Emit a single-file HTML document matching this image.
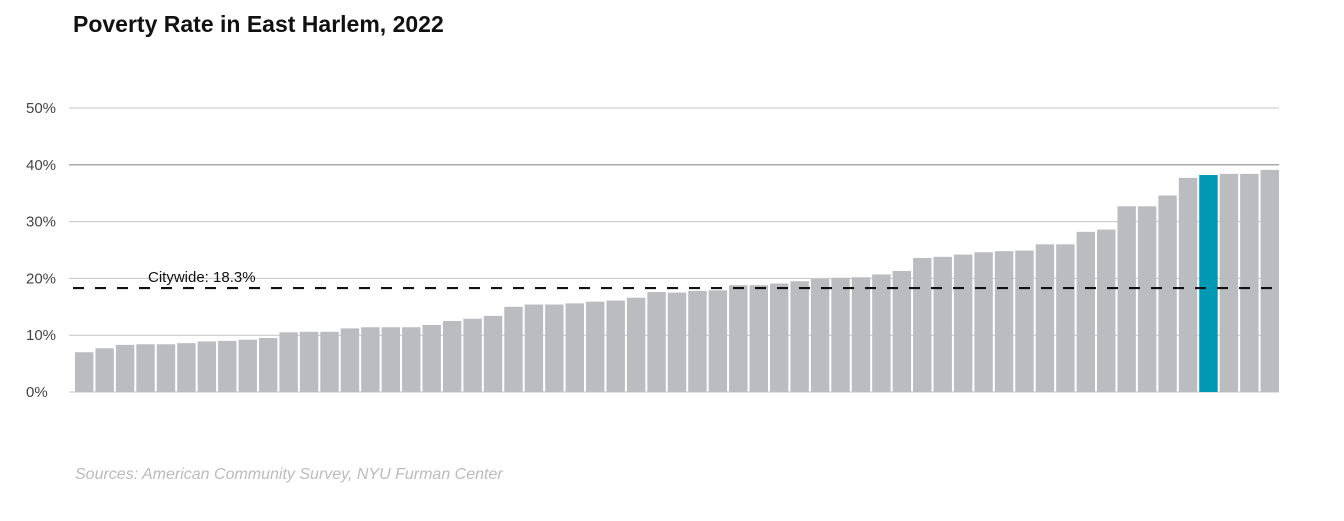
<!DOCTYPE html>
<html><head><meta charset="utf-8"><style>
body{margin:0;background:#fff;width:1344px;height:516px;overflow:hidden;font-family:"Liberation Sans",sans-serif}
</style></head><body>
<svg width="1344" height="516">
<text x="73" y="32" font-size="23" font-weight="bold" fill="#111">Poverty Rate in East Harlem, 2022</text>
<g id="grid"></g><g id="bars"></g><g id="ref"></g>
<text x="75" y="479" font-size="16" font-style="italic" fill="#bbb">Sources: American Community Survey, NYU Furman Center</text>
</svg>
<script>
const values=[7.0,7.7,8.3,8.4,8.4,8.6,8.9,9.0,9.2,9.5,10.5,10.6,10.6,11.2,11.4,11.4,11.4,11.8,12.5,12.9,13.4,15.0,15.4,15.4,15.6,15.9,16.1,16.6,17.6,17.5,17.8,17.9,18.8,18.8,19.1,19.5,19.9,20.1,20.2,20.7,21.3,23.6,23.8,24.2,24.6,24.8,24.9,26.0,26.0,28.2,28.6,32.7,32.7,34.6,37.7,38.2,38.4,38.4,39.1];
const highlightIndex=55;
const ticks=[0,10,20,30,40,50];
const tickLabels=["0%","10%","20%","30%","40%","50%"];
const citywide=18.3;
const citywideLabel="Citywide: 18.3%";
const NS="http://www.w3.org/2000/svg";
const x0=73,x1=1279,y0=392,ppu=5.68,step=(x1-x0)/values.length;
const y=v=>y0-v*ppu;
function mk(t,a,p){const e=document.createElementNS(NS,t);for(const k in a)e.setAttribute(k,a[k]);p.appendChild(e);return e;}
const g=document.getElementById('grid');
ticks.forEach((t,i)=>{
 const l=mk('line',{x1:x0-4,x2:x1,y1:y(t),y2:y(t),stroke:t==40?'#aaa':'#c4c4c4','stroke-width':t==40?1.5:1},g);
 
 
 const tx=mk('text',{x:26,y:y(t)+5,'font-size':15,fill:'#444'},g);tx.textContent=tickLabels[i];
 
 
});
const b=document.getElementById('bars');
values.forEach((v,i)=>{
 const r=mk('rect',{x:x0+2+i*step,y:y(v),width:step-2,height:v*ppu,fill:i==highlightIndex?'#0099b3':'#bbbcbf'},b);
 
 
});
const rf=document.getElementById('ref');
const dl=mk('line',{x1:x0,x2:x1,y1:y(citywide),y2:y(citywide),stroke:'#111','stroke-width':2.2,'stroke-dasharray':'11 11'},rf);


const ct=mk('text',{x:148,y:y(citywide)-6,'font-size':15,fill:'#111'},rf);ct.textContent=citywideLabel;


</script>
</body></html>
